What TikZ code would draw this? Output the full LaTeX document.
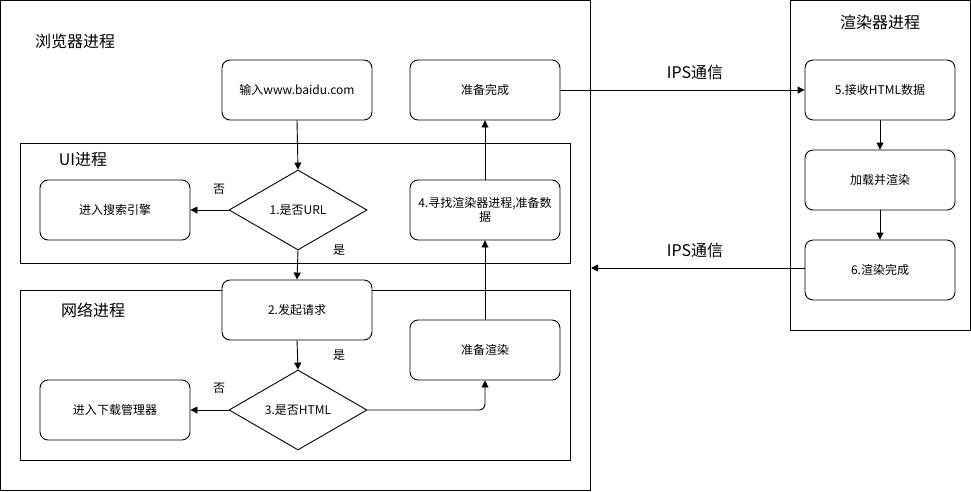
\documentclass[tikz,border=0pt]{standalone}
\usepackage{fontspec}
\setmainfont{Noto Sans CJK SC}
\usetikzlibrary{shapes.geometric,arrows.meta}
\begin{document}
\begin{tikzpicture}[x=1pt,y=-1pt,
  every node/.style={font=\fontsize{12}{14}\selectfont},
  rbox/.style={draw,line width=0.9pt,rounded corners=8pt,fill=white,minimum width=150pt,minimum height=60pt,align=center,text width=140pt,inner sep=0pt},
  dia/.style={draw,line width=0.9pt,diamond,aspect=1.725,minimum width=138pt,minimum height=80pt,inner sep=0pt,fill=white},
  frame/.style={draw,line width=0.9pt},
  title/.style={font=\fontsize{16}{18}\selectfont},
  lbl/.style={font=\fontsize{12}{14}\selectfont},
  arr/.style={line width=0.9pt,-{Triangle[length=7pt,width=7pt]}}]
\useasboundingbox (0,0) rectangle (971,491);
% frames
\draw[frame] (0.5,0.5) rectangle (590,490);
\draw[frame] (790,0.5) rectangle (970,330);
\draw[frame] (20,143) rectangle (570,263);
\draw[frame] (20,290) rectangle (570,460);
% titles
\node[title] (tb) at (75,41) {浏览器进程};
\node[title] (tui) at (83,160) {UI进程};
\node[title] (tnet) at (93,310) {网络进程};
\node[title] (tr) at (880,22) {渲染器进程};
% boxes
\node[rbox] (in) at (297,90) {输入www.baidu.com};
\node[rbox] (done) at (485,90) {准备完成};
\node[rbox] (search) at (115,210) {进入搜索引擎};
\node[dia] (url) at (298,210) {1.是否URL};
\node[rbox] (find) at (485,210) {4.寻找渲染器进程,准备数\\据};
\node[rbox] (req) at (297,310) {2.发起请求};
\node[rbox] (prep) at (485,350) {准备渲染};
\node[rbox] (dl) at (115,410) {进入下载管理器};
\node[dia] (html) at (298,410) {3.是否HTML};
\node[rbox] (recv) at (880,90) {5.接收HTML数据};
\node[rbox] (load) at (880,180) {加载并渲染};
\node[rbox] (rend) at (880,270) {6.渲染完成};
% labels
\node[lbl] (n1) at (219,189) {否};
\node[lbl] (y1) at (339,250) {是};
\node[lbl] (y2) at (339,355) {是};
\node[lbl] (n2) at (219,388) {否};
\node[title] (ips1) at (695,72) {IPS通信};
\node[title] (ips2) at (695,250) {IPS通信};
\coordinate (bedge) at (591,268);
% connectors
\draw[arr] (in.south) -- (url.north);
\draw[arr] (url.west) -- (search.east);
\draw[arr] (url.south) -- (req.north);
\draw[arr] (req.south) -- (html.north);
\draw[arr] (html.west) -- (dl.east);
\draw[arr,rounded corners=6pt] (html.east) -- (prep.south |- html.east) -- (prep.south);
\draw[arr] (prep.north) -- (find.south);
\draw[arr] (find.north) -- (done.south);
\draw[arr] (done.east) -- (recv.west);
\draw[arr] (recv.south) -- (load.north);
\draw[arr] (load.south) -- (rend.north);
\draw[arr] (rend.west |- bedge) -- (bedge);
\end{tikzpicture}
\end{document}
